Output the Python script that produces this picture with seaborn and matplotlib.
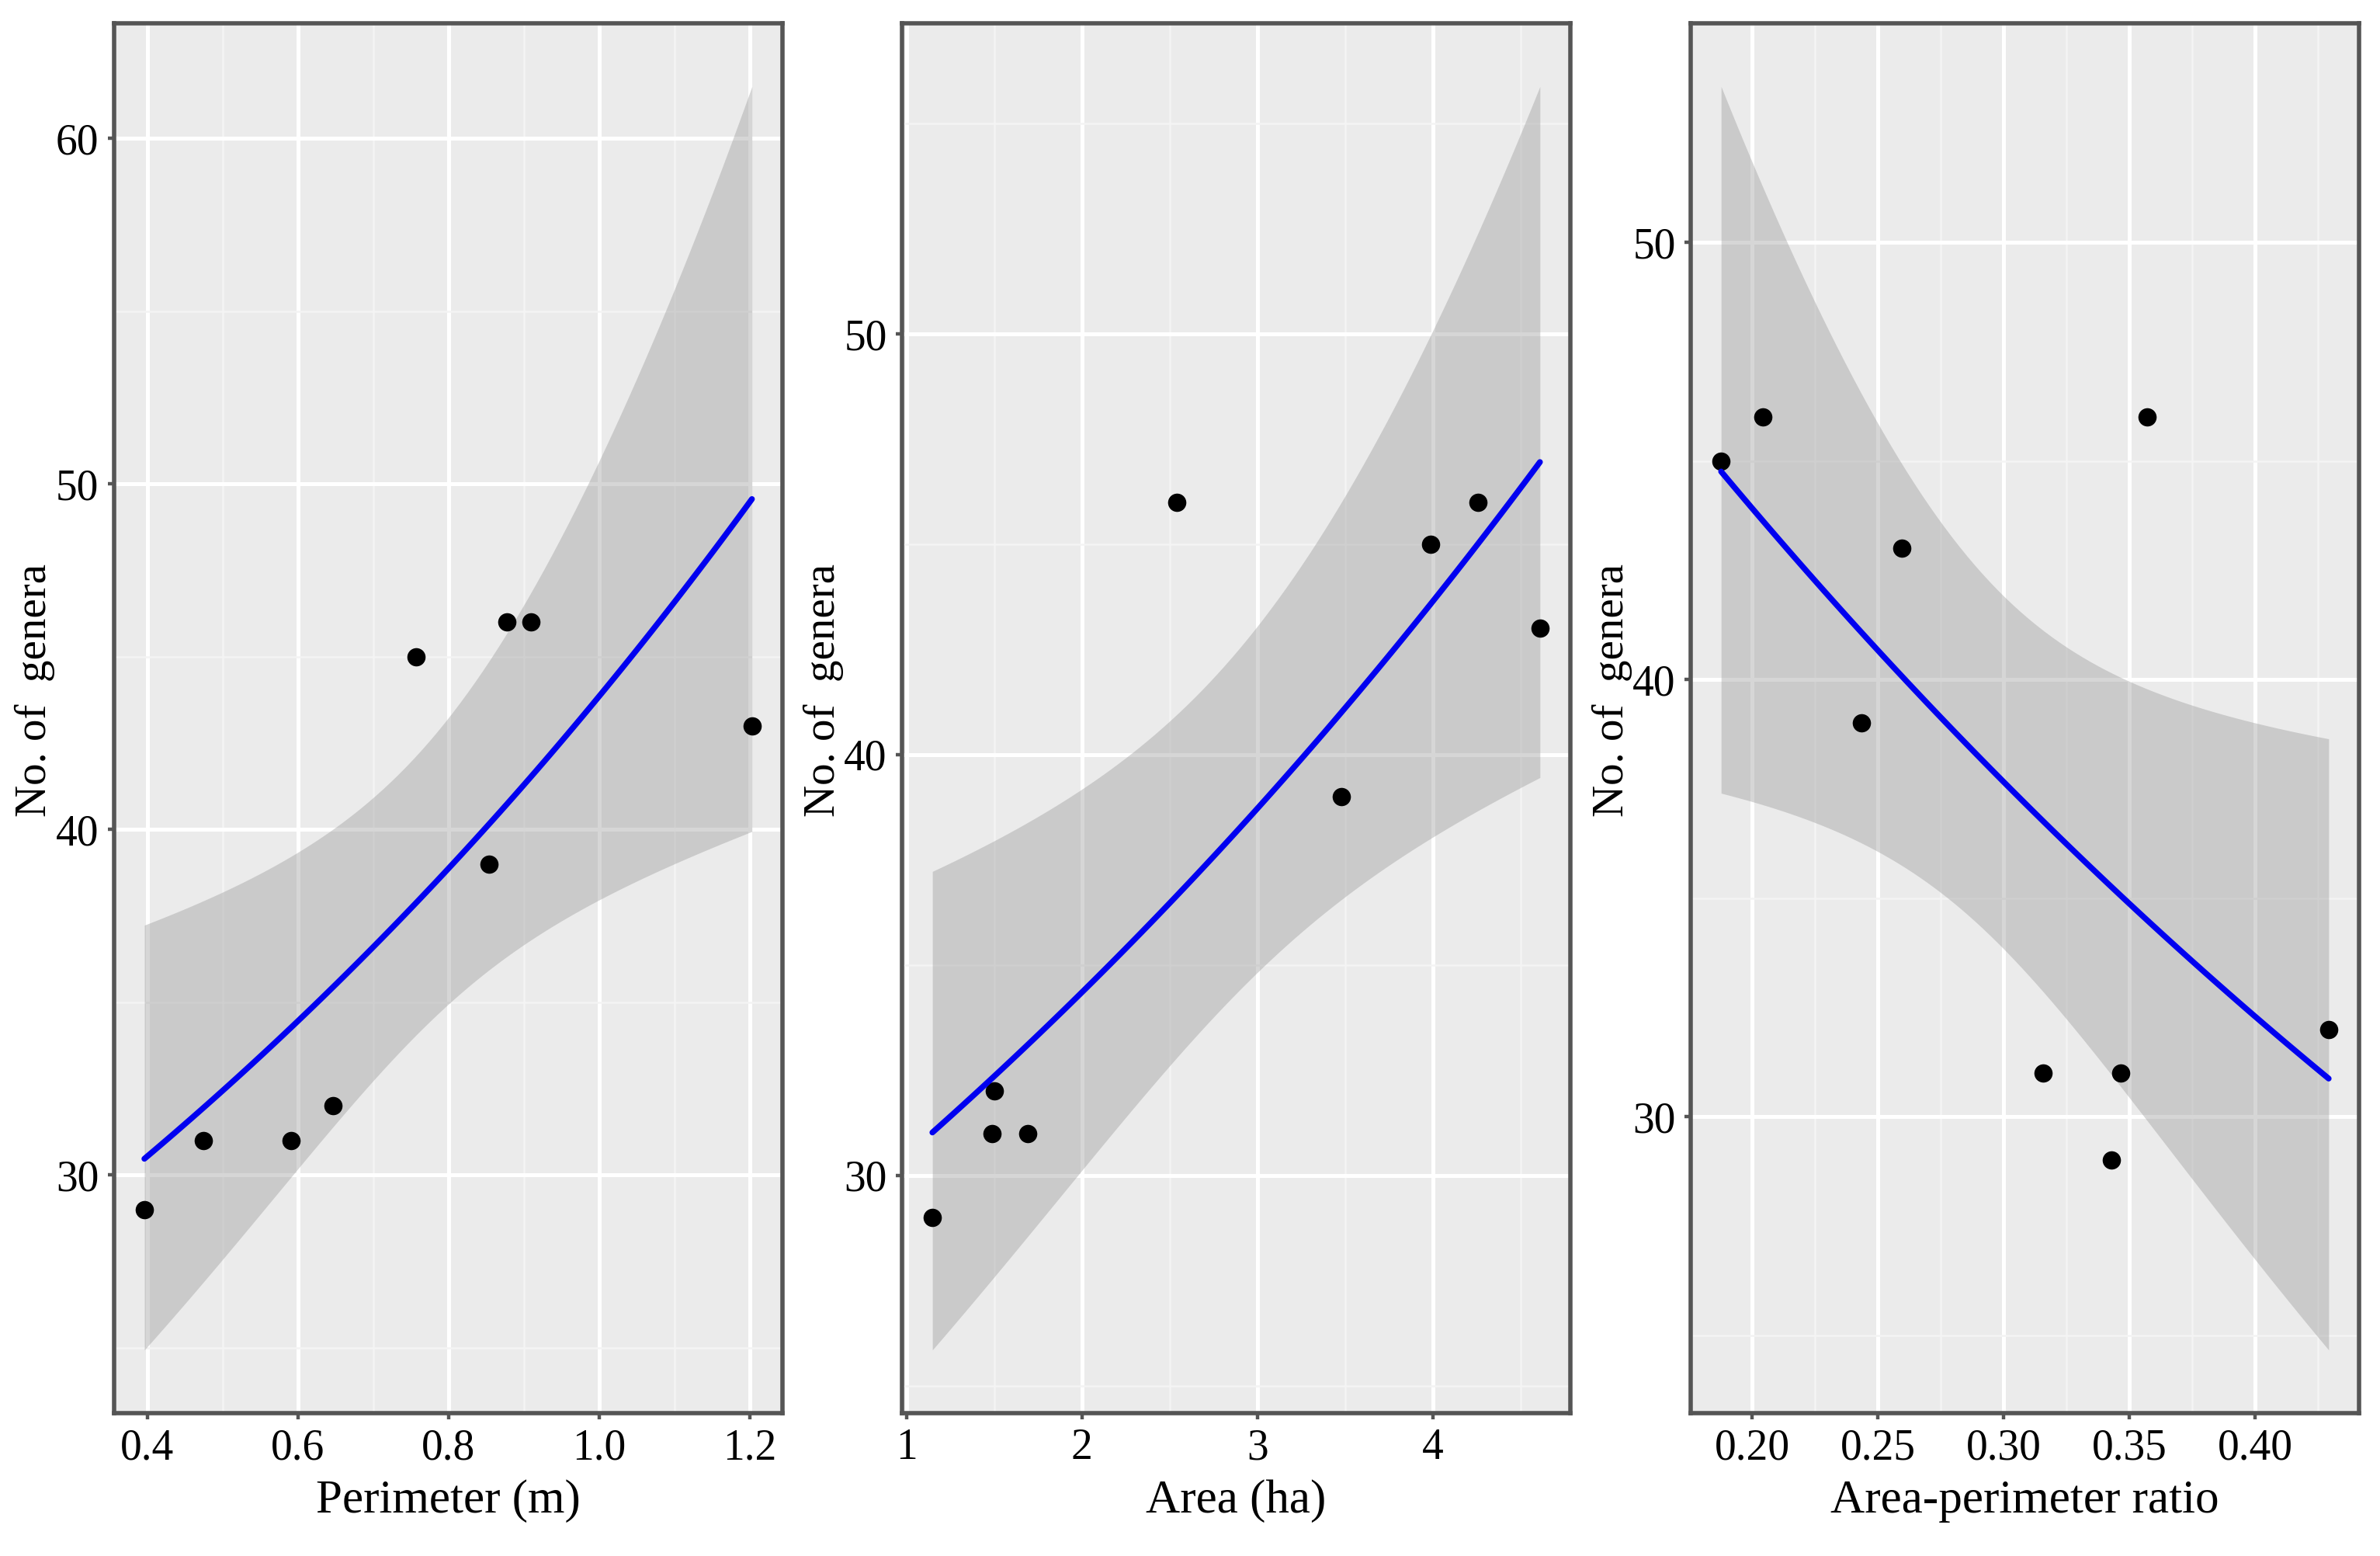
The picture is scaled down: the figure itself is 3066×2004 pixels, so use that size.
import numpy as np
import pandas as pd
import matplotlib
matplotlib.use("Agg")
import matplotlib.pyplot as plt
import seaborn as sns
from matplotlib.ticker import MultipleLocator, AutoMinorLocator, FormatStrFormatter

# --- values ---
perimeter = [0.396, 0.474, 0.591, 0.647, 0.757, 0.854, 0.878, 0.909, 1.203]
genera_perimeter = [29, 31, 31, 32, 45, 39, 46, 46, 43]

area = [1.147, 1.489, 1.499, 1.69, 2.539, 3.48, 3.987, 4.258, 4.61]
genera_area = [29, 31, 32, 31, 46, 39, 45, 46, 43]

ratio = [0.1876, 0.2041, 0.2433, 0.2595, 0.3156, 0.343, 0.3466, 0.357, 0.4293]
genera_ratio = [45, 46, 39, 43, 31, 29, 31, 46, 32]

x_labels = ["Perimeter (m)", "Area (ha)", "Area-perimeter ratio"]
y_label = "No. of  genera"


def poisson_smooth(x, y, n=80):
    """Poisson GLM (log link) fit with 95% band, like geom_smooth(method='glm')."""
    x = np.asarray(x, float)
    y = np.asarray(y, float)
    X = np.column_stack([np.ones_like(x), x])
    beta = np.linalg.lstsq(X, np.log(y), rcond=None)[0]
    for _ in range(50):
        mu = np.exp(X @ beta)
        z = X @ beta + (y - mu) / mu
        XtW = X.T * mu
        beta = np.linalg.solve(XtW @ X, XtW @ z)
    mu = np.exp(X @ beta)
    cov = np.linalg.inv((X.T * mu) @ X)
    xs = np.linspace(x.min(), x.max(), n)
    Xs = np.column_stack([np.ones_like(xs), xs])
    eta = Xs @ beta
    se = np.sqrt(np.einsum("ij,jk,ik->i", Xs, cov, Xs))
    return pd.DataFrame({"x": xs, "fit": np.exp(eta),
                         "lo": np.exp(eta - 1.96 * se), "hi": np.exp(eta + 1.96 * se)})


sns.set_theme(style="darkgrid")
plt.rcParams["font.family"] = ["Liberation Serif", "DejaVu Serif"]

fig = plt.figure(figsize=(15.33, 10.02), dpi=200)
fig.patch.set_facecolor("white")

lefts = [0.0479, 0.3790, 0.7104]
width = 0.2808
bottom, height = 0.0918, 0.8932

panels = [
    (perimeter, genera_perimeter, 0.2, "%.1f"),
    (area, genera_area, 1, "%d"),
    (ratio, genera_ratio, 0.05, "%.2f"),
]

for i, (xv, yv, xstep, fmt) in enumerate(panels):
    ax = fig.add_axes([lefts[i], bottom, width, height])
    ax.set_facecolor("#EBEBEB")
    ax.set_axisbelow(True)

    df = pd.DataFrame({"x": xv, "y": yv})
    sm = poisson_smooth(xv, yv)

    ax.fill_between(sm["x"], sm["lo"], sm["hi"], color="#999999", alpha=0.4, lw=0)
    sns.lineplot(data=sm, x="x", y="fit", ax=ax, color="#0000F0", linewidth=2.7)
    sns.scatterplot(data=df, x="x", y="y", ax=ax, color="black", s=72, linewidth=0)

    # ggplot-like 5% expansion around data + ribbon
    xmin, xmax = min(xv), max(xv)
    ymin = min(min(yv), sm["lo"].min())
    ymax = max(max(yv), sm["hi"].max())
    dx, dy = (xmax - xmin) * 0.05, (ymax - ymin) * 0.05
    ax.set_xlim(xmin - dx, xmax + dx)
    ax.set_ylim(ymin - dy, ymax + dy)

    ax.xaxis.set_major_locator(MultipleLocator(xstep))
    ax.xaxis.set_major_formatter(FormatStrFormatter(fmt))
    ax.yaxis.set_major_locator(MultipleLocator(10))
    ax.xaxis.set_minor_locator(AutoMinorLocator(2))
    ax.yaxis.set_minor_locator(AutoMinorLocator(2))

    ax.grid(which="major", color="white", linewidth=1.8)
    ax.grid(which="minor", color="#F4F4F4", linewidth=0.9)

    ax.tick_params(which="major", length=3, width=1.6, color="#555555",
                   labelsize=20, labelcolor="black", pad=4, bottom=True, left=True)
    ax.tick_params(which="minor", length=0)

    for sp in ax.spines.values():
        sp.set_visible(True)
        sp.set_color("#555555")
        sp.set_linewidth(2.0)

    ax.set_xlabel(x_labels[i], fontsize=22, color="black", labelpad=5)
    ax.set_ylabel(y_label, fontsize=20.5, color="black")
    ax.yaxis.set_label_coords(-0.118, 0.52)
    ax.yaxis.label.set_verticalalignment("center")

fig.savefig("out.png", dpi=200, facecolor="white")
